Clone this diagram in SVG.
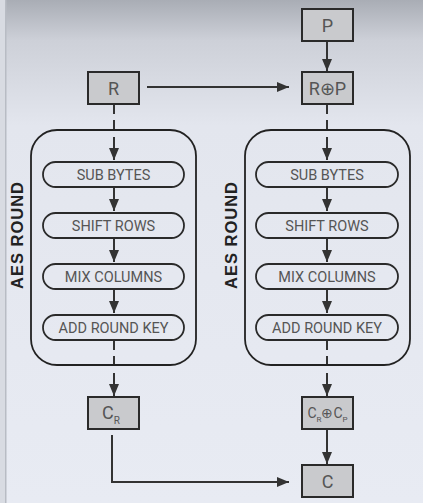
<svg xmlns="http://www.w3.org/2000/svg" width="423" height="503" viewBox="0 0 423 503">
<defs>
<linearGradient id="bg" x1="0" y1="0" x2="0" y2="1">
<stop offset="0" stop-color="#a9adb5"/>
<stop offset="0.08" stop-color="#cdd0d8"/>
<stop offset="0.25" stop-color="#e3e6ee"/>
<stop offset="1" stop-color="#e8ebf3"/>
</linearGradient>
<marker id="ah" viewBox="0 0 12 10" refX="12" refY="5" markerWidth="12" markerHeight="10" markerUnits="userSpaceOnUse" orient="auto">
<path d="M0,0 L12,5 L0,10 z" fill="#333"/>
</marker>
<style>
.box{fill:#c9cacd;stroke:#2a2a2a;stroke-width:2}
.pill{fill:none;stroke:#2a2a2a;stroke-width:1.8}
.outer{fill:none;stroke:#222;stroke-width:1.8}
.t{font-family:Roboto,"Liberation Sans",sans-serif;fill:#555;text-anchor:middle}
.lbl{font-size:14.5px}
.big{font-size:18px}
.vt{font-family:"Liberation Sans",Arial,sans-serif;font-weight:bold;font-size:16.5px;fill:#222;text-anchor:middle;letter-spacing:1px}
.c{fill:none;stroke:#333;stroke-width:2}
.d{fill:none;stroke:#333;stroke-width:2;stroke-dasharray:9 6}
</style>
</defs>
<rect width="423" height="503" fill="url(#bg)"/>
<rect x="0" y="0" width="5" height="503" fill="#d8dbe2"/>
<rect x="5" y="0" width="1.5" height="503" fill="#b8bcc4"/>

<g id="connectors">
<line class="c" x1="327" y1="41" x2="327" y2="71" marker-end="url(#ah)"/>
<line class="c" x1="147" y1="87" x2="289" y2="87" marker-end="url(#ah)"/>
<line class="d" x1="114" y1="105" x2="114" y2="131"/>
<line class="c" x1="114" y1="137" x2="114" y2="160" marker-end="url(#ah)"/>
<line class="d" x1="327" y1="105" x2="327" y2="131"/>
<line class="c" x1="327" y1="137" x2="327" y2="160" marker-end="url(#ah)"/>
<line class="c" x1="114" y1="187" x2="114" y2="211" marker-end="url(#ah)"/>
<line class="c" x1="114" y1="238" x2="114" y2="262" marker-end="url(#ah)"/>
<line class="c" x1="114" y1="289" x2="114" y2="313" marker-end="url(#ah)"/>
<line class="c" x1="327" y1="187" x2="327" y2="211" marker-end="url(#ah)"/>
<line class="c" x1="327" y1="238" x2="327" y2="262" marker-end="url(#ah)"/>
<line class="c" x1="327" y1="289" x2="327" y2="313" marker-end="url(#ah)"/>
<line class="d" x1="114" y1="341" x2="114" y2="364"/>
<line class="c" x1="114" y1="373" x2="114" y2="396" marker-end="url(#ah)"/>
<line class="d" x1="327" y1="341" x2="327" y2="364"/>
<line class="c" x1="327" y1="373" x2="327" y2="396" marker-end="url(#ah)"/>
<line class="c" x1="327" y1="429" x2="327" y2="464" marker-end="url(#ah)"/>
<path class="c" d="M112,435 V482 H289" marker-end="url(#ah)"/>
</g>

<g id="P"><rect class="box" x="302" y="9" width="51" height="32"/><text class="t big" x="327.5" y="31.5">P</text></g>
<g id="R"><rect class="box" x="88" y="72" width="51" height="32"/><text class="t big" x="113.5" y="94.5">R</text></g>
<g id="RxP"><rect class="box" x="302" y="72" width="51" height="32"/><text class="t big" x="327.5" y="94.5">R⊕P</text></g>

<g id="roundL">
<rect class="outer" x="31" y="130" width="165" height="235" rx="26" ry="26"/>
<text class="vt" transform="translate(23,235) rotate(-90)">AES ROUND</text>
</g>
<g id="roundR">
<rect class="outer" x="245" y="130" width="165" height="235" rx="26" ry="26"/>
<text class="vt" transform="translate(237,235) rotate(-90)">AES ROUND</text>
</g>

<g id="subL"><rect class="pill" x="43" y="162" width="141" height="25" rx="12.5"/><text class="t lbl" x="113.5" y="180">SUB BYTES</text></g>
<g id="shiftL"><rect class="pill" x="43" y="213" width="141" height="25" rx="12.5"/><text class="t lbl" x="113.5" y="231">SHIFT ROWS</text></g>
<g id="mixL"><rect class="pill" x="43" y="264" width="141" height="25" rx="12.5"/><text class="t lbl" x="113.5" y="282">MIX COLUMNS</text></g>
<g id="addL"><rect class="pill" x="43" y="315" width="141" height="25" rx="12.5"/><text class="t lbl" x="113.5" y="333">ADD ROUND KEY</text></g>

<g id="subR"><rect class="pill" x="256" y="162" width="142" height="25" rx="12.5"/><text class="t lbl" x="327" y="180">SUB BYTES</text></g>
<g id="shiftR"><rect class="pill" x="256" y="213" width="142" height="25" rx="12.5"/><text class="t lbl" x="327" y="231">SHIFT ROWS</text></g>
<g id="mixR"><rect class="pill" x="256" y="264" width="142" height="25" rx="12.5"/><text class="t lbl" x="327" y="282">MIX COLUMNS</text></g>
<g id="addR"><rect class="pill" x="256" y="315" width="142" height="25" rx="12.5"/><text class="t lbl" x="327" y="333">ADD ROUND KEY</text></g>

<g id="CR"><rect class="box" x="88" y="397" width="51" height="32"/><text class="t big" x="111" y="419">C<tspan font-size="10" dy="5">R</tspan></text></g>
<g id="CRxCP"><rect class="box" x="302" y="397" width="51" height="32"/><text class="t" font-size="14" x="327.5" y="418">C<tspan font-size="8" dy="4">R</tspan><tspan dy="-4">⊕C</tspan><tspan font-size="8" dy="4">P</tspan></text></g>
<g id="C"><rect class="box" x="302" y="465" width="51" height="32"/><text class="t big" x="327.5" y="487.5">C</text></g>
</svg>
